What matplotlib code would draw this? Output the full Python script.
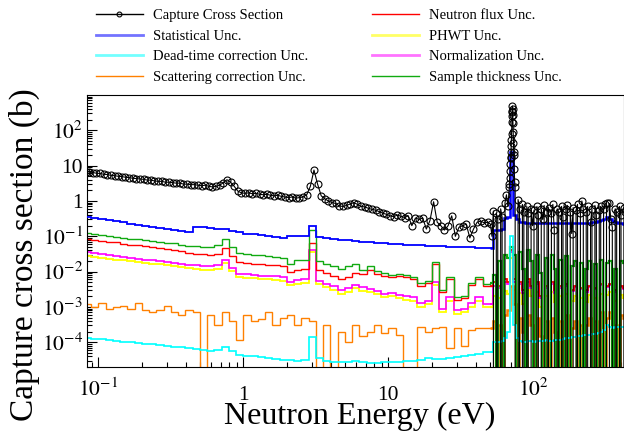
import numpy as np
import matplotlib
matplotlib.use("Agg")
import matplotlib.pyplot as plt
import matplotlib.transforms as mtransforms
from matplotlib.lines import Line2D
from matplotlib.ticker import FixedLocator, LogLocator, NullFormatter, FuncFormatter

plt.rcParams['font.family'] = ['Liberation Serif', 'DejaVu Serif']
plt.rcParams['mathtext.fontset'] = 'stix'

# binning in eV: 20 bins/decade up to 50 eV, 50 bins/decade above
EDGES_LOW = np.logspace(-1.1, 1.7, 57)
EDGES_HIGH = np.logspace(1.7, 2.64, 48)

# energies of the cross section points
E_XS_LOW = np.logspace(-1.0875, 1.6875, 112)
E_XS_HIGH = np.logspace(1.705, 2.635, 94)

# ---- uncertainties (b), low energy bins ----
stat_low = [0.35, 0.33, 0.31, 0.29, 0.27, 0.25, 0.23, 0.215, 0.2, 0.185,
            0.175, 0.165, 0.155, 0.145, 0.135, 0.185, 0.178, 0.17, 0.165, 0.16,
            0.145, 0.13, 0.12, 0.113, 0.107, 0.1, 0.095, 0.09, 0.105, 0.102,
            0.105, 0.19, 0.095, 0.09, 0.085, 0.081, 0.077, 0.074, 0.071, 0.068,
            0.066, 0.064, 0.062, 0.06, 0.058, 0.057, 0.055, 0.054, 0.053, 0.052,
            0.051, 0.05, 0.05, 0.049, 0.048, 0.048]
thick_low = [0.125, 0.115, 0.108, 0.1, 0.097, 0.09, 0.086, 0.082, 0.078, 0.073,
             0.07, 0.066, 0.063, 0.058, 0.053, 0.052, 0.05, 0.05, 0.055, 0.085,
             0.05, 0.033, 0.032, 0.03, 0.029, 0.027, 0.026, 0.024, 0.017, 0.021,
             0.022, 0.155, 0.02, 0.016, 0.014, 0.012, 0.014, 0.017, 0.011, 0.014,
             0.0105, 0.009, 0.0082, 0.0085, 0.0078, 0.0072, 0.0047, 0.0055, 0.019, 0.003,
             0.0072, 0.0019, 0.0021, 0.0047, 0.0072, 0.0045]
flux_low = [0.085, 0.08, 0.075, 0.07, 0.067, 0.062, 0.058, 0.055, 0.052, 0.049,
            0.046, 0.044, 0.041, 0.038, 0.033, 0.032, 0.031, 0.03, 0.032, 0.047,
            0.028, 0.019, 0.018, 0.017, 0.016, 0.0155, 0.015, 0.014, 0.01, 0.0115,
            0.012, 0.065, 0.011, 0.009, 0.0075, 0.0062, 0.0072, 0.009, 0.0085, 0.011,
            0.0088, 0.0075, 0.0072, 0.0075, 0.007, 0.0062, 0.004, 0.0048, 0.0165, 0.0026,
            0.0062, 0.0016, 0.0018, 0.0041, 0.0062, 0.004]
norm_low = [0.035, 0.033, 0.031, 0.029, 0.028, 0.026, 0.025, 0.023, 0.022, 0.021,
            0.02, 0.019, 0.018, 0.017, 0.0155, 0.015, 0.0145, 0.014, 0.015, 0.022,
            0.013, 0.0088, 0.0085, 0.008, 0.0077, 0.0075, 0.0073, 0.007, 0.0052, 0.0058,
            0.006, 0.042, 0.0055, 0.0045, 0.0038, 0.003, 0.0034, 0.0042, 0.0036, 0.0033,
            0.0028, 0.0023, 0.0025, 0.0022, 0.002, 0.0019, 0.0013, 0.0015, 0.005, 0.0009,
            0.0019, 0.0008, 0.00085, 0.0013, 0.0019, 0.0012]
phwt_low = [0.027, 0.026, 0.025, 0.023, 0.022, 0.021, 0.02, 0.019, 0.018, 0.017,
            0.016, 0.015, 0.0145, 0.0135, 0.0125, 0.012, 0.0115, 0.011, 0.012, 0.018,
            0.0105, 0.007, 0.0068, 0.0065, 0.0062, 0.006, 0.0058, 0.0056, 0.0042, 0.0046,
            0.0048, 0.036, 0.0044, 0.0036, 0.003, 0.0024, 0.0027, 0.0034, 0.0029, 0.0027,
            0.0023, 0.0019, 0.002, 0.0018, 0.0016, 0.0015, 0.001, 0.0012, 0.0042, 0.00072,
            0.0015, 0.00065, 0.0007, 0.001, 0.0015, 0.001]
scat_low = [0.0012, 0.001, 0.0013, 0.0009, 0.001, 0.0011, 0.0009, 0.0013, 0.0008, 0.0007,
            0.0008, 0.0011, 0.0007, 0.0006, 0.0008, 0.0007, 0, 0.0006, 0.0003, 0.0007,
            0.0004, 0.00012, 0.0006, 0.0004, 0.00045, 0.0007, 0.0003, 0.0005, 0.0006, 0.0003,
            0.0005, 0.0004, 0, 0.0003, 0, 0.0002, 0.0001, 0.0003, 0.00015, 0.0002,
            0.0003, 0.00018, 0.00025, 0.00016, 0, 0, 0.00028, 0.0002, 0.00026, 0.00028,
            0.00007, 0.00025, 0.00008, 0.00022, 0.00026, 0.00025]
dead_low = [1.35e-4, 1.28e-4, 1.22e-4, 1.16e-4, 1.1e-4, 1.05e-4, 1.0e-4, 9.6e-5, 9.2e-5, 8.8e-5,
            8.4e-5, 8.0e-5, 7.6e-5, 7.2e-5, 6.8e-5, 6.4e-5, 6.1e-5, 5.8e-5, 6.2e-5, 7.5e-5,
            5.5e-5, 4.5e-5, 4.2e-5, 4.0e-5, 3.8e-5, 3.6e-5, 3.4e-5, 3.2e-5, 3.1e-5, 3.0e-5,
            3.2e-5, 1.4e-4, 3.5e-5, 3.0e-5, 2.8e-5, 2.7e-5, 2.7e-5, 2.9e-5, 2.7e-5, 2.6e-5,
            2.6e-5, 2.7e-5, 2.7e-5, 2.8e-5, 2.9e-5, 3.0e-5, 3.1e-5, 3.6e-5, 3.3e-5, 3.4e-5,
            3.6e-5, 3.8e-5, 4.0e-5, 4.3e-5, 4.7e-5, 5.2e-5]

# ---- uncertainties (b), bins above 50 eV ----
stat_high = [0.048, 0.155, 0.155, 0.155, 0.16, 0.34, 0.36, 25, 0.4, 0.3,
             0.26, 0.25, 0.24, 0.24, 0.245, 0.24, 0.24, 0.235, 0.24, 0.24,
             0.24, 0.235, 0.24, 0.24, 0.24, 0.235, 0.24, 0.24, 0.235, 0.24,
             0.24, 0.24, 0.245, 0.24, 0.245, 0.25, 0.26, 0.27, 0.29, 0.31,
             0.36, 0.3, 0.27, 0.25, 0.24, 0.235, 0.23]
thick_high = [0.0047, 0.008, 0, 0.02, 0, 0.03, 0.025, 0.05, 0.03, 0,
              0.035, 0.012, 0, 0.04, 0.02, 0, 0.03, 0.009, 0, 0.025,
              0, 0.03, 0.012, 0, 0.022, 0, 0.028, 0, 0.014, 0.02,
              0, 0.018, 0, 0.012, 0.02, 0, 0.016, 0, 0.022, 0,
              0.018, 0.02, 0, 0.012, 0, 0.02, 0.018]
flux_high = [0.004, 0.005, 0, 0.004, 0, 0.006, 0.005, 0.04, 0.006, 0,
             0.005, 0.003, 0, 0.006, 0.004, 0, 0.005, 0.002, 0, 0.004,
             0, 0.005, 0.003, 0, 0.004, 0, 0.0045, 0, 0.003, 0.004,
             0, 0.0035, 0, 0.003, 0.004, 0, 0.0035, 0, 0.0045, 0,
             0.004, 0.0045, 0, 0.003, 0, 0.004, 0.0035]
norm_high = [0.0012, 0.004, 0, 0.0035, 0, 0.005, 0.0045, 0.035, 0.005, 0,
             0.0045, 0.0025, 0, 0.005, 0.0035, 0, 0.0045, 0.0018, 0, 0.0035,
             0, 0.0045, 0.0025, 0, 0.0035, 0, 0.004, 0, 0.0028, 0.0036,
             0, 0.0032, 0, 0.0026, 0.0036, 0, 0.0032, 0, 0.0042, 0,
             0.0036, 0.0042, 0, 0.0027, 0, 0.0036, 0.0032]
phwt_high = [0.001, 0.002, 0, 0.0018, 0, 0.0028, 0.0024, 0.025, 0.003, 0,
             0.0025, 0.0012, 0, 0.003, 0.002, 0, 0.0026, 0.001, 0, 0.002,
             0, 0.0026, 0.0014, 0, 0.002, 0, 0.0024, 0, 0.0015, 0.002,
             0, 0.0018, 0, 0.0014, 0.0022, 0, 0.0018, 0, 0.0024, 0,
             0.0022, 0.0026, 0, 0.0015, 0, 0.0022, 0.0018]
scat_high = [0.00025, 0.0004, 0, 0.0003, 0, 0.0006, 0.0008, 0.004, 0.0012, 0,
             0.0005, 0.0002, 0, 0.0006, 0.0003, 0, 0.0005, 0.00015, 0, 0.0004,
             0, 0.0005, 0.0002, 0, 0.0004, 0, 0.0006, 0, 0.00025, 0.0004,
             0, 0.0003, 0, 0.0003, 0.0005, 0, 0.0004, 0, 0.0007, 0,
             0.0005, 0.0007, 0, 0.0003, 0, 0.0006, 0.0005]
dead_high = [5.2e-5, 1.0e-4, 1.0e-4, 1.05e-4, 1.1e-4, 1.3e-4, 2.0e-4, 0.1, 3.0e-4, 1.3e-4,
             1.1e-4, 1.05e-4, 1.05e-4, 1.1e-4, 1.1e-4, 1.05e-4, 1.1e-4, 1.1e-4, 1.1e-4, 1.15e-4,
             1.1e-4, 1.1e-4, 1.15e-4, 1.15e-4, 1.2e-4, 1.25e-4, 1.3e-4, 1.35e-4, 1.4e-4, 1.45e-4,
             1.5e-4, 1.55e-4, 1.6e-4, 1.6e-4, 1.65e-4, 1.7e-4, 1.75e-4, 1.8e-4, 1.9e-4, 2.2e-4,
             3.0e-4, 2.7e-4, 2.6e-4, 2.65e-4, 2.7e-4, 2.7e-4, 2.8e-4]

# ---- capture cross section (b) ----
xs_low = [6.8, 6.6, 6.4, 6.1, 6.0, 5.7, 5.6, 5.3, 5.2, 5.0,
          4.9, 4.7, 4.6, 4.4, 4.3, 4.2, 4.1, 3.9, 3.9, 3.7,
          3.6, 3.6, 3.4, 3.4, 3.3, 3.2, 3.2, 3.0, 3.0, 2.9,
          2.9, 2.8, 2.7, 2.8, 2.6, 2.5, 2.6, 2.8, 3.3, 4.0,
          3.4, 2.6, 1.9, 1.7, 1.65, 1.7, 1.6, 1.65, 1.55, 1.5,
          1.55, 1.45, 1.4, 1.45, 1.35, 1.3, 1.25, 1.3, 1.2, 1.25,
          1.3, 1.5, 2.6, 7.5, 3.0, 1.4, 1.15, 1.0, 0.9, 0.85,
          0.72, 0.7, 0.75, 0.82, 0.9, 0.8, 0.7, 0.68, 0.62, 0.58,
          0.55, 0.5, 0.45, 0.42, 0.38, 0.36, 0.4, 0.37, 0.34, 0.38,
          0.2, 0.33, 0.3, 0.33, 0.16, 0.28, 0.95, 0.25, 0.2, 0.15,
          0.2, 0.38, 0.1, 0.18, 0.2, 0.22, 0.09, 0.16, 0.25, 0.27,
          0.24, 0.25]
xs_high = [0.22, 0.1, 0.52, 0, 0.45, 0.3, 0, 0.6, 0.35, 0,
           0.9, 1.5, 0.7, 2.5, 18, 330, 25, 2.5, 0, 1.1,
           0.6, 0, 0.8, 0.5, 0, 0.7, 0.45, 0, 0.6, 0.2,
           0.55, 0, 0.7, 0.4, 0, 0.6, 0.3, 0.75, 0, 0.5,
           0.65, 0, 0.45, 0.8, 0.15, 0, 0.6, 0.5, 0, 0.7,
           0.35, 0, 0.6, 0.75, 0, 0.5, 0.12, 0.65, 0, 0.55,
           0.8, 0, 0.45, 1.0, 0.6, 0, 0.5, 0.7, 0, 0.25,
           0.6, 0, 0.75, 0.4, 0, 0.55, 0.7, 0, 0.6, 0.8,
           0.9, 0, 0.85, 0.3, 0.18, 0, 0.6, 0.5, 0, 0.7,
           0.4, 0, 0.65, 0.5]
# finely binned points across the 72 eV resonance
res_energy = [68.4, 68.8, 69.2, 69.6, 69.9, 70.2, 70.4, 70.6, 70.8, 71.2, 71.4,
              71.6, 71.8, 72.0, 72.2, 72.4, 72.7, 73.0, 73.4, 73.9, 74.4]
res_xs = [3, 4.5, 7, 11, 16, 24, 35, 52, 78, 170, 250,
          360, 490, 400, 270, 160, 90, 45, 20, 8, 3.5]

x_ticks = [0.1, 1, 10, 100]
y_ticks = [1e-4, 1e-3, 1e-2, 1e-1, 1, 10, 100]


def log_label(v, pos=None):
    p = int(round(np.log10(v)))
    if p == 0:
        return '1'
    if p == 1:
        return '10'
    return r'$10^{%d}$' % p


fig = plt.figure(figsize=(6.24, 4.32), dpi=100)
ax = fig.add_axes([87/624, 1 - 367/432, (623.5 - 87)/624, 272/432])
ax.set_xscale('log')
ax.set_yscale('log', nonpositive='clip')

# (low values, high values, colour, lw below / above 50 eV, zorder)
hists = [
    (phwt_low, phwt_high, '#ffff00', 1.3, 1.6, 2.0),
    (norm_low, norm_high, '#ff00ff', 1.2, 1.3, 2.1),
    (flux_low, flux_high, '#ff0000', 1.0, 1.3, 2.2),
    (scat_low, scat_high, '#ff8000', 1.0, 1.8, 2.3),
    (thick_low, thick_high, '#11aa11', 1.0, 1.6, 2.4),
    (dead_low, dead_high, '#00ffff', 1.2, 1.2, 2.5),
    (stat_low, stat_high, '#0000ff', 1.3, 1.8, 2.6),
]
for lo, hi, col, lw_lo, lw_hi, z in hists:
    ax.stairs(lo + hi[:1], np.append(EDGES_LOW, EDGES_HIGH[1]), baseline=None,
              color=col, lw=lw_lo, zorder=z)
    ax.stairs(hi, EDGES_HIGH, baseline=None, color=col, lw=lw_hi, zorder=z)

e_xs = np.concatenate([E_XS_LOW, E_XS_HIGH, res_energy])
v_xs = np.concatenate([xs_low, xs_high, res_xs])
order = np.argsort(e_xs, kind='stable')
ax.plot(e_xs[order], v_xs[order], color='k', lw=0.8, marker='o', ms=5,
        mfc='none', mec='k', mew=0.8, zorder=5)

ax.set_xlim(0.0836, 419)
ax.set_ylim(2e-5, 1000)

ax.xaxis.set_major_locator(FixedLocator(x_ticks))
ax.xaxis.set_minor_locator(LogLocator(base=10, subs=np.arange(2, 10), numticks=20))
ax.xaxis.set_major_formatter(NullFormatter())
ax.xaxis.set_minor_formatter(NullFormatter())
ax.yaxis.set_major_locator(FixedLocator(y_ticks))
ax.yaxis.set_minor_locator(LogLocator(base=10, subs=np.arange(2, 10), numticks=20))
ax.yaxis.set_major_formatter(FuncFormatter(log_label))
ax.yaxis.set_minor_formatter(NullFormatter())
ax.tick_params(which='both', direction='in', top=False, right=False, width=0.8)
ax.tick_params(which='major', length=7.5)
ax.tick_params(which='minor', length=3.8)
ax.tick_params(axis='y', labelsize=15.5, pad=3)
for sp in ax.spines.values():
    sp.set_linewidth(0.8)

# x tick labels: ROOT puts plain numbers a bit lower than the 10^n ones
trans = mtransforms.blended_transform_factory(ax.transData, ax.transAxes)
for v in x_ticks:
    lab = log_label(v)
    y_px = 400 if lab in ('1', '10') else 396
    ax.text(v, (367 - y_px)/272, lab, transform=trans, ha='center',
            va='baseline', fontsize=15.5)

fig.text(359.5/624, 1 - 424/432, 'Neutron Energy (eV)', ha='center',
         va='baseline', fontsize=23)
fig.text(24/624, 1 - 88/432, 'Capture cross section (b)', rotation=90,
         ha='center', va='top', fontsize=24)

handles = [
    Line2D([], [], color='k', lw=1, marker='o', ms=3.5, mfc='none', mew=0.8),
    Line2D([], [], color='#0000ff', lw=2, alpha=0.55),
    Line2D([], [], color='#00ffff', lw=2, alpha=0.55),
    Line2D([], [], color='#ff8000', lw=1),
    Line2D([], [], color='#ff0000', lw=1),
    Line2D([], [], color='#ffff00', lw=2, alpha=0.6),
    Line2D([], [], color='#ff00ff', lw=2, alpha=0.55),
    Line2D([], [], color='#11aa11', lw=1),
]
labels = ['Capture Cross Section', 'Statistical Unc.', 'Dead-time correction Unc.',
          'Scattering correction Unc.', 'Neutron flux Unc.', 'PHWT Unc.',
          'Normalization Unc.', 'Sample thickness Unc.']
fig.legend(handles, labels, loc='upper left', bbox_to_anchor=(96/624, 1 - 9/432),
           ncol=2, frameon=False, fontsize=10.5, handlelength=3.2,
           handletextpad=0.7, columnspacing=4.4, labelspacing=0.5,
           borderpad=0, borderaxespad=0)

fig.savefig('out.png', dpi=100)
